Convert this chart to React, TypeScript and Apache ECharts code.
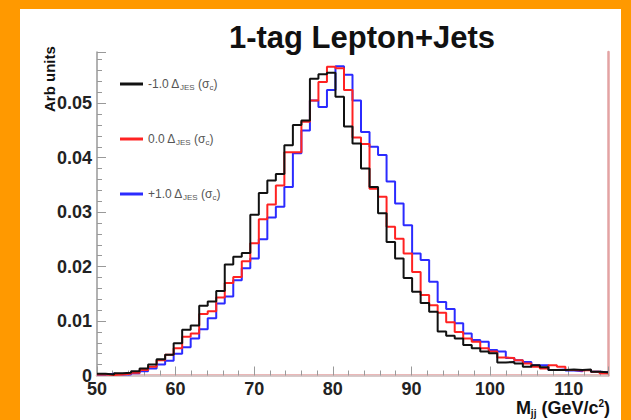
import React, { useEffect, useRef } from "react";
import * as echarts from "echarts";

// Histogram: 60 bins from 50 to 115 GeV/c^2
const xMin = 50;
const xMax = 115;
const nBins = 60;

const seriesNames = ["-1.0", "0.0", "+1.0"];

const blackVals = [
  0.0003, 0.0002, 0.0004, 0.0005, 0.0008, 0.0013, 0.002, 0.003, 0.0038, 0.0059,
  0.0084, 0.0092, 0.0128, 0.0136, 0.0155, 0.0204, 0.0218, 0.0225, 0.0295, 0.0335,
  0.0358, 0.037, 0.0423, 0.046, 0.0468, 0.0545, 0.0553, 0.0556, 0.0512, 0.0457,
  0.0426, 0.038, 0.0346, 0.0298, 0.0245, 0.0215, 0.0179, 0.0154, 0.0133, 0.0117,
  0.0081, 0.0073, 0.0068, 0.0056, 0.005, 0.0044, 0.0041, 0.0024, 0.0025, 0.0022,
  0.0016, 0.0019, 0.0015, 0.001, 0.001, 0.0011, 0.001, 0.0011, 0.0007, 0.0006,
];

const redVals = [
  0.0002, 0.0001, 0.0002, 0.0003, 0.0005, 0.001, 0.0016, 0.0028, 0.0038, 0.005,
  0.0071, 0.0077, 0.0113, 0.0118, 0.0143, 0.017, 0.0181, 0.021, 0.0243, 0.0287,
  0.0314, 0.0349, 0.041, 0.041, 0.0466, 0.0505, 0.0539, 0.0567, 0.0564, 0.0524,
  0.0437, 0.0425, 0.0343, 0.0328, 0.0273, 0.0251, 0.0224, 0.019, 0.0148, 0.0129,
  0.0115, 0.0098, 0.008, 0.0068, 0.0062, 0.005, 0.0044, 0.0033, 0.0032, 0.0028,
  0.0022, 0.0016, 0.0013, 0.0019, 0.0016, 0.001, 0.0009, 0.001, 0.0007, 0.0004,
];

const blueVals = [
  0.0002, 0.0003, 0.0002, 0.0002, 0.0004, 0.0008, 0.0013, 0.002, 0.0027, 0.004,
  0.0052, 0.0068, 0.0085, 0.0105, 0.0132, 0.0145, 0.0175, 0.0197, 0.0215, 0.025,
  0.029, 0.031, 0.0346, 0.0408, 0.045, 0.0505, 0.0493, 0.0524, 0.0568, 0.0552,
  0.0505, 0.0447, 0.042, 0.0405, 0.0356, 0.0316, 0.0276, 0.0224, 0.0212, 0.0172,
  0.0135, 0.0122, 0.0096, 0.0077, 0.0065, 0.0062, 0.0047, 0.0044, 0.0032, 0.0028,
  0.0025, 0.0019, 0.0019, 0.001, 0.0011, 0.0009, 0.0008, 0.001, 0.0007, 0.0006,
];

const yTickLabels = ["0", "0.01", "0.02", "0.03", "0.04", "0.05"];

function toSteps(vals: number[]) {
  const w = (xMax - xMin) / nBins;
  const pts: [number, number][] = vals.map((v, k) => [xMin + k * w, v]);
  pts.push([xMax, vals[vals.length - 1]]);
  return pts;
}

const FONT = "Liberation Sans";

export default function App() {
  const ref = useRef<HTMLDivElement>(null);
  useEffect(() => {
    if (!ref.current) return;
    const chart = echarts.init(ref.current, null, { renderer: "svg" });
    const mk = (name: string, vals: number[], color: string) => ({
      name,
      type: "line",
      step: "end",
      symbol: "none",
      showSymbol: false,
      data: toSteps(vals),
      lineStyle: { color, width: 2 },
      itemStyle: { color },
      xAxisIndex: 0,
      yAxisIndex: 0,
    });
    chart.setOption({
      animation: false,
      backgroundColor: "#ff9900",
      title: {
        text: "1-tag Lepton+Jets",
        left: 357,
        textAlign: "center",
        top: 17,
        textStyle: { fontFamily: FONT, fontWeight: "bold", fontSize: 31, color: "#111" },
      },
      graphic: [
        {
          type: "rect",
          z: -10,
          silent: true,
          shape: { x: 20, y: 9, width: 601, height: 411 },
          style: { fill: "#ffffff" },
        },
        {
          type: "text",
          x: 49,
          y: 112,
          rotation: Math.PI / 2,
          style: {
            text: "Arb units",
            font: `bold 15px ${FONT}`,
            fill: "#111",
            align: "left",
            verticalAlign: "middle",
          },
        },
        {
          type: "text",
          x: 610,
          y: 408,
          style: {
            text: "{b|M}{s|jj}{b| (GeV/c}{p|2}{b|)}",
            align: "right",
            verticalAlign: "middle",
            rich: {
              b: { font: `bold 18px ${FONT}`, fill: "#111", lineHeight: 20 },
              s: { font: `bold 10px ${FONT}`, fill: "#111", lineHeight: 9, verticalAlign: "bottom" },
              p: { font: `bold 10px ${FONT}`, fill: "#111", lineHeight: 9, verticalAlign: "top" },
            },
          },
        },
      ],
      legend: {
        orient: "vertical",
        left: 115,
        top: 73,
        icon: "rect",
        itemWidth: 23,
        itemHeight: 3,
        itemGap: 42,
        data: seriesNames,
        formatter: (name: string) => `{n|${name} Δ}{s|JES}{n| (σ}{s|c}{n|)}`,
        textStyle: {
          color: "#555",
          fontFamily: FONT,
          fontSize: 12,
          rich: {
            n: { color: "#555", fontFamily: FONT, fontSize: 12, lineHeight: 14 },
            s: { color: "#555", fontFamily: FONT, fontSize: 8, lineHeight: 8, verticalAlign: "bottom" },
          },
        },
      },
      grid: { left: 97, right: 23, top: 52, bottom: 44.5 },
      xAxis: [
        {
          type: "value",
          min: xMin,
          max: xMax,
          interval: 10,
          axisLine: { show: true, lineStyle: { color: "#e3a0a0", width: 2.5 } },
          axisTick: { show: true, inside: true, length: 9, lineStyle: { color: "#999", width: 1 } },
          minorTick: { show: true, splitNumber: 5, length: 5, lineStyle: { color: "#999" } },
          splitLine: { show: false },
          axisLabel: {
            showMaxLabel: false,
            margin: 4,
            fontFamily: FONT,
            fontWeight: "bold",
            fontSize: 18,
            color: "#222",
          },
        },
        {
          type: "value",
          position: "top",
          min: xMin,
          max: xMax,
          interval: 10,
          axisLine: { show: true, lineStyle: { color: "#d0d0d0", width: 1.5 } },
          axisTick: { show: false },
          axisLabel: { show: false },
          splitLine: { show: false },
        },
      ],
      yAxis: [
        {
          type: "value",
          min: 0,
          max: 0.0594,
          interval: 0.01,
          axisLine: { show: true, lineStyle: { color: "#999", width: 1.5 } },
          axisTick: { show: true, inside: true, length: 9, lineStyle: { color: "#999" } },
          minorTick: { show: true, splitNumber: 5, length: 5, lineStyle: { color: "#999" } },
          splitLine: { show: false },
          axisLabel: {
            showMaxLabel: false,
            margin: 5,
            fontFamily: FONT,
            fontWeight: "bold",
            fontSize: 18,
            color: "#222",
            formatter: (v: number) => yTickLabels[Math.round(v / 0.01)] ?? "",
          },
        },
        {
          type: "value",
          position: "right",
          min: 0,
          max: 0.0594,
          interval: 0.01,
          axisLine: { show: true, lineStyle: { color: "#e3a3a3", width: 2.5 } },
          axisTick: { show: false },
          axisLabel: { show: false },
          splitLine: { show: false },
        },
      ],
      series: [
        mk(seriesNames[2], blueVals, "#2b2bff"),
        mk(seriesNames[1], redVals, "#ff2222"),
        mk(seriesNames[0], blackVals, "#111111"),
      ],
    });
    return () => chart.dispose();
  }, []);
  return (
    <div
      ref={ref}
      style={{ position: "absolute", left: 0, top: 0, width: 631, height: 420 }}
    />
  );
}
